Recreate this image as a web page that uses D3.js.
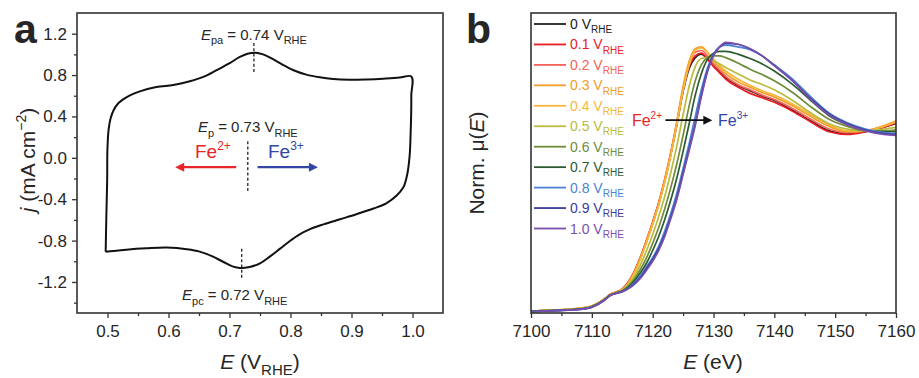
<!DOCTYPE html>
<html>
<head>
<meta charset="utf-8">
<script src="https://cdn.jsdelivr.net/npm/d3@7"></script>
<style>
  body { margin: 0; background: #fff; }
  svg text { font-family: "Liberation Sans", Arial, Helvetica, sans-serif; fill: #262626; }
</style>
</head>
<body>
<svg id="fig" width="919" height="378"></svg>
<script>
// ---------- Panel a: cyclic voltammogram ----------
const cvPotential = [0.497,0.498,0.4995,0.500,0.502,0.505,0.510,0.518,0.531,0.553,0.580,0.608,0.635,0.657,0.679,0.701,0.717,0.731,0.743,0.755,0.772,0.788,0.804,0.826,0.848,0.870,0.897,0.925,0.952,0.979,0.997,
  0.998,0.997,0.995,0.991,0.985,0.974,0.957,0.936,0.908,0.881,0.854,0.832,0.815,0.799,0.783,0.766,0.750,0.733,0.717,0.706,0.690,0.673,0.651,0.630,0.597,0.564,0.531,0.504,0.497];
const cvCurrent = [-0.907,-0.6,-0.2,0.1,0.28,0.38,0.46,0.53,0.585,0.642,0.684,0.705,0.74,0.782,0.848,0.918,0.975,1.008,1.016,1.0,0.952,0.897,0.849,0.804,0.778,0.762,0.755,0.758,0.765,0.776,0.79,
  0.6,0.25,0.0,-0.17,-0.285,-0.365,-0.44,-0.49,-0.545,-0.594,-0.643,-0.69,-0.74,-0.804,-0.878,-0.955,-1.02,-1.055,-1.065,-1.052,-1.007,-0.955,-0.907,-0.884,-0.868,-0.875,-0.888,-0.904,-0.907];
const cvTicksX = [0.5,0.6,0.7,0.8,0.9,1.0];
const cvMinorX = [0.55,0.65,0.75,0.85,0.95];
const cvTicksY = [-1.2,-0.8,-0.4,0.0,0.4,0.8,1.2];
const cvMinorY = [-1.4,-1.0,-0.6,-0.2,0.2,0.6,1.0];
const peakAnodic = 0.74, peakMid = 0.73, peakCathodic = 0.72;

// ---------- Panel b: Fe K-edge XANES ----------
const energy = [7100,7104,7108,7110,7112,7113,7114,7115,7116,7117,7118,7119,7120,7121,7122,7123,7124,7125,7126,7127,7128,7129,7130,7131,7132,7134,7136,7138,7140,7143,7146,7149,7152,7155,7158,7160];
const mu00 = [0.000,0.006,0.014,0.028,0.065,0.092,0.105,0.120,0.16,0.22,0.30,0.39,0.49,0.60,0.73,0.88,1.05,1.23,1.36,1.42,1.44,1.415,1.38,1.345,1.31,1.265,1.235,1.205,1.18,1.125,1.065,1.01,0.995,1.005,1.03,1.05];
const mu01 = [0.000,0.006,0.014,0.028,0.067,0.095,0.108,0.125,0.165,0.225,0.305,0.40,0.50,0.61,0.74,0.89,1.06,1.24,1.37,1.43,1.445,1.41,1.37,1.335,1.30,1.255,1.22,1.195,1.17,1.12,1.06,1.005,0.99,1.005,1.03,1.055];
const mu02 = [0.000,0.006,0.014,0.028,0.066,0.093,0.107,0.123,0.16,0.22,0.30,0.395,0.495,0.605,0.735,0.885,1.055,1.24,1.38,1.45,1.46,1.43,1.385,1.35,1.315,1.27,1.24,1.21,1.185,1.135,1.075,1.02,1.0,1.01,1.035,1.06];
const mu03 = [0.000,0.007,0.017,0.030,0.066,0.093,0.107,0.122,0.16,0.22,0.30,0.395,0.495,0.605,0.74,0.89,1.07,1.26,1.40,1.47,1.48,1.45,1.40,1.365,1.33,1.285,1.255,1.225,1.20,1.15,1.09,1.035,1.005,1.01,1.04,1.065];
const mu04 = [0.000,0.007,0.016,0.029,0.065,0.092,0.106,0.120,0.155,0.21,0.29,0.385,0.485,0.595,0.725,0.875,1.05,1.235,1.38,1.46,1.475,1.45,1.41,1.375,1.345,1.30,1.265,1.235,1.21,1.16,1.10,1.045,1.01,1.01,1.035,1.06];
const mu05 = [0.000,0.006,0.014,0.027,0.064,0.091,0.104,0.118,0.15,0.195,0.26,0.34,0.43,0.53,0.645,0.78,0.93,1.10,1.26,1.37,1.415,1.42,1.405,1.385,1.365,1.33,1.295,1.27,1.24,1.18,1.11,1.05,1.02,1.01,1.02,1.03];
const mu06 = [0.000,0.005,0.013,0.026,0.063,0.090,0.103,0.115,0.14,0.18,0.235,0.30,0.38,0.47,0.575,0.695,0.83,0.985,1.15,1.29,1.38,1.42,1.43,1.43,1.42,1.39,1.355,1.325,1.29,1.225,1.145,1.075,1.035,1.01,1.01,1.015];
const mu07 = [0.000,0.005,0.012,0.025,0.062,0.089,0.102,0.112,0.135,0.17,0.215,0.27,0.34,0.42,0.515,0.625,0.75,0.895,1.05,1.21,1.33,1.41,1.445,1.455,1.455,1.44,1.415,1.385,1.345,1.27,1.18,1.095,1.045,1.015,1.005,1.005];
const mu08 = [-0.002,0.004,0.011,0.023,0.061,0.088,0.101,0.110,0.13,0.16,0.20,0.25,0.30,0.365,0.45,0.55,0.665,0.80,0.94,1.09,1.24,1.36,1.44,1.48,1.49,1.48,1.465,1.43,1.38,1.30,1.20,1.11,1.055,1.02,1.0,0.995];
const mu09 = [-0.003,0.003,0.010,0.022,0.060,0.088,0.100,0.110,0.128,0.155,0.19,0.24,0.29,0.35,0.43,0.53,0.64,0.775,0.91,1.05,1.21,1.345,1.435,1.48,1.50,1.495,1.47,1.43,1.375,1.29,1.19,1.105,1.05,1.015,0.995,0.99];
const mu10 = [-0.003,0.003,0.010,0.022,0.060,0.088,0.100,0.108,0.125,0.15,0.185,0.23,0.28,0.34,0.42,0.52,0.63,0.765,0.90,1.04,1.20,1.34,1.43,1.48,1.505,1.495,1.47,1.43,1.375,1.29,1.185,1.10,1.045,1.01,0.99,0.985];
const potentials = ["0","0.1","0.2","0.3","0.4","0.5","0.6","0.7","0.8","0.9","1.0"];
const energyTicks = [7100,7110,7120,7130,7140,7150,7160];
const energyMinor = [7105,7115,7125,7135,7145,7155];

const xanesSeries = [mu00,mu01,mu02,mu03,mu04,mu05,mu06,mu07,mu08,mu09,mu10];
const seriesColors = ["#222222","#ec1c24","#f4625a","#f39c28","#f5b83d","#b9bc3c","#6f8c3a","#2d5a33","#4b84d4","#393c98","#7a4fae"];
const RED = "#e8262a", BLUE = "#3346a6", AXIS = "#333333";

const svg = d3.select("#fig");

// text with sub/superscripts built from tspans
function rich(sel, parts, size, small) {
  sel.attr("font-size", size);
  let shift = 0;
  parts.forEach(p => {
    const target = p.sub ? size * 0.3 : p.sup ? -size * 0.42 : 0;
    const ts = sel.append("tspan").text(p.t).attr("dy", target - shift);
    shift = target;
    if (p.sub || p.sup) ts.attr("font-size", small);
    if (p.it) ts.attr("font-style", "italic");
  });
  return sel;
}

function styleAxis(g, fontSize) {
  g.select(".domain").remove();
  g.selectAll(".tick line").attr("stroke", AXIS).attr("stroke-width", 1.3);
  g.selectAll(".tick text").attr("font-size", fontSize).attr("fill", "#262626")
    .attr("font-family", "'Liberation Sans', Arial, sans-serif");
}

// ===== Panel a =====
const xA = d3.scaleLinear().domain([0.45, 1.05]).range([77, 443]);
const yA = d3.scaleLinear().domain([-1.5, 1.4]).range([313, 13]);
const gA = svg.append("g");

gA.append("g").attr("transform", "translate(0,313)")
  .call(d3.axisBottom(xA).tickValues(cvMinorX).tickSize(3).tickFormat(""))
  .call(g => styleAxis(g, 17));
gA.append("g").attr("transform", "translate(0,313)")
  .call(d3.axisBottom(xA).tickValues(cvTicksX).tickSize(5).tickPadding(7).tickFormat(d => d.toFixed(1)))
  .call(g => styleAxis(g, 17));
gA.append("g").attr("transform", "translate(77,0)")
  .call(d3.axisLeft(yA).tickValues(cvMinorY).tickSize(3).tickFormat(""))
  .call(g => styleAxis(g, 17));
gA.append("g").attr("transform", "translate(77,0)")
  .call(d3.axisLeft(yA).tickValues(cvTicksY).tickSize(5).tickPadding(5).tickFormat(d => d.toFixed(1)))
  .call(g => styleAxis(g, 17));

gA.append("rect").attr("x", 77).attr("y", 13).attr("width", 366).attr("height", 300)
  .attr("fill", "none").attr("stroke", AXIS).attr("stroke-width", 1.6);

// chordal Catmull-Rom keeps the switching corners of the sweep tight
const cvLine = d3.line().x(i => xA(cvPotential[i])).y(i => yA(cvCurrent[i]))
  .curve(d3.curveCatmullRom.alpha(1));
gA.append("path").attr("d", cvLine(d3.range(cvPotential.length)))
  .attr("fill", "none").attr("stroke", "#111").attr("stroke-width", 2).attr("stroke-linejoin", "round");

// peak markers
function dashed(g, x, y1, y2) {
  g.append("line").attr("x1", x).attr("x2", x).attr("y1", y1).attr("y2", y2)
    .attr("stroke", "#222").attr("stroke-width", 1.3).attr("stroke-dasharray", "3,2.2");
}
dashed(gA, xA(peakAnodic), yA(1.11), yA(0.81));
dashed(gA, xA(peakMid), yA(0.16), yA(-0.32));
dashed(gA, xA(peakCathodic), yA(-0.88), yA(-1.17));

rich(gA.append("text").attr("x", xA(peakAnodic)).attr("y", 39.5).attr("text-anchor", "middle"),
  [{t:"E", it:true},{t:"pa", sub:true},{t:" = 0.74 V"},{t:"RHE", sub:true}], 15, 11);
rich(gA.append("text").attr("x", xA(peakMid)).attr("y", 132).attr("text-anchor", "middle"),
  [{t:"E", it:true},{t:"p", sub:true},{t:" = 0.73 V"},{t:"RHE", sub:true}], 15, 11);
rich(gA.append("text").attr("x", xA(peakCathodic) - 7).attr("y", 300).attr("text-anchor", "middle"),
  [{t:"E", it:true},{t:"pc", sub:true},{t:" = 0.72 V"},{t:"RHE", sub:true}], 15, 11);

// Fe2+ / Fe3+ arrows
function arrow(g, x1, x2, y, color, w) {
  const dir = Math.sign(x2 - x1), head = 9, half = 4.5;
  g.append("line").attr("x1", x1).attr("x2", x2 - dir * head + dir).attr("y1", y).attr("y2", y)
    .attr("stroke", color).attr("stroke-width", w);
  g.append("path").attr("d", `M${x2},${y} L${x2 - dir * head},${y - half} L${x2 - dir * head},${y + half} Z`)
    .attr("fill", color);
}
const arrowY = yA(-0.09);
arrow(gA, xA(0.711), xA(0.611), arrowY, RED, 2.2);
arrow(gA, xA(0.746), xA(0.845), arrowY, BLUE, 2.2);
rich(gA.append("text").attr("x", 195).attr("y", 158).attr("fill", RED),
  [{t:"Fe"},{t:"2+", sup:true}], 19, 12).selectAll("tspan").attr("fill", RED);
rich(gA.append("text").attr("x", 268).attr("y", 158),
  [{t:"Fe"},{t:"3+", sup:true}], 19, 12).selectAll("tspan").attr("fill", BLUE);

// axis titles
rich(gA.append("text").attr("x", 260).attr("y", 369).attr("text-anchor", "middle"),
  [{t:"E", it:true},{t:" (V"},{t:"RHE", sub:true},{t:")"}], 21, 15);
rich(gA.append("text").attr("transform", "translate(35,160) rotate(-90)").attr("text-anchor", "middle"),
  [{t:"j", it:true},{t:" (mA cm"},{t:"−2", sup:true},{t:")"}], 21, 14);

svg.append("text").attr("x", 14).attr("y", 43).attr("font-size", 41).attr("font-weight", "bold")
  .attr("fill", "#111").text("a");

// ===== Panel b =====
const xB = d3.scaleLinear().domain([7100, 7160]).range([531, 896]);
const yB = d3.scaleLinear().domain([-0.01, 1.67]).range([313, 13]);
const gB = svg.append("g");

gB.append("g").attr("transform", "translate(0,313)")
  .call(d3.axisBottom(xB).tickValues(energyMinor).tickSize(3).tickFormat(""))
  .call(g => styleAxis(g, 17));
gB.append("g").attr("transform", "translate(0,313)")
  .call(d3.axisBottom(xB).tickValues(energyTicks).tickSize(5).tickPadding(7).tickFormat(d3.format("d")))
  .call(g => styleAxis(g, 17));

const clip = svg.append("clipPath").attr("id", "clipB");
clip.append("rect").attr("x", 531).attr("y", 13).attr("width", 365).attr("height", 300);

const xLine = d3.line().x((d, i) => xB(energy[i])).y(d => yB(d)).curve(d3.curveMonotoneX);
gB.append("g").attr("clip-path", "url(#clipB)")
  .selectAll("path").data(xanesSeries).join("path")
  .attr("d", xLine)
  .attr("fill", "none")
  .attr("stroke", (d, i) => seriesColors[i])
  .attr("stroke-width", 1.7);

gB.append("rect").attr("x", 531).attr("y", 13).attr("width", 365).attr("height", 300)
  .attr("fill", "none").attr("stroke", AXIS).attr("stroke-width", 1.6);

// legend
potentials.forEach((p, i) => {
  const y = 24 + i * 20.45;
  gB.append("line").attr("x1", 534).attr("x2", 566).attr("y1", y).attr("y2", y)
    .attr("stroke", seriesColors[i]).attr("stroke-width", 1.8);
  rich(gB.append("text").attr("x", 570).attr("y", y + 5),
    [{t:p + " V"},{t:"RHE", sub:true}], 14, 10).selectAll("tspan").attr("fill", seriesColors[i]);
});

// oxidation-state shift annotation
const annY = yB(1.07);
rich(gB.append("text").attr("x", 662).attr("y", annY + 5.5).attr("text-anchor", "end"),
  [{t:"Fe"},{t:"2+", sup:true}], 16, 10).selectAll("tspan").attr("fill", RED);
arrow(gB, xB(7122.1), xB(7129.8), annY, "#111", 1.6);
rich(gB.append("text").attr("x", 718).attr("y", annY + 5.5),
  [{t:"Fe"},{t:"3+", sup:true}], 16, 10).selectAll("tspan").attr("fill", BLUE);

// axis titles
rich(gB.append("text").attr("x", 713).attr("y", 369).attr("text-anchor", "middle"),
  [{t:"E", it:true},{t:" (eV)"}], 21, 15);
rich(gB.append("text").attr("transform", "translate(484,163) rotate(-90)").attr("text-anchor", "middle"),
  [{t:"Norm. μ("},{t:"E", it:true},{t:")"}], 21, 14);

svg.append("text").attr("x", 466).attr("y", 43).attr("font-size", 41).attr("font-weight", "bold")
  .attr("fill", "#111").text("b");
</script>
</body>
</html>
